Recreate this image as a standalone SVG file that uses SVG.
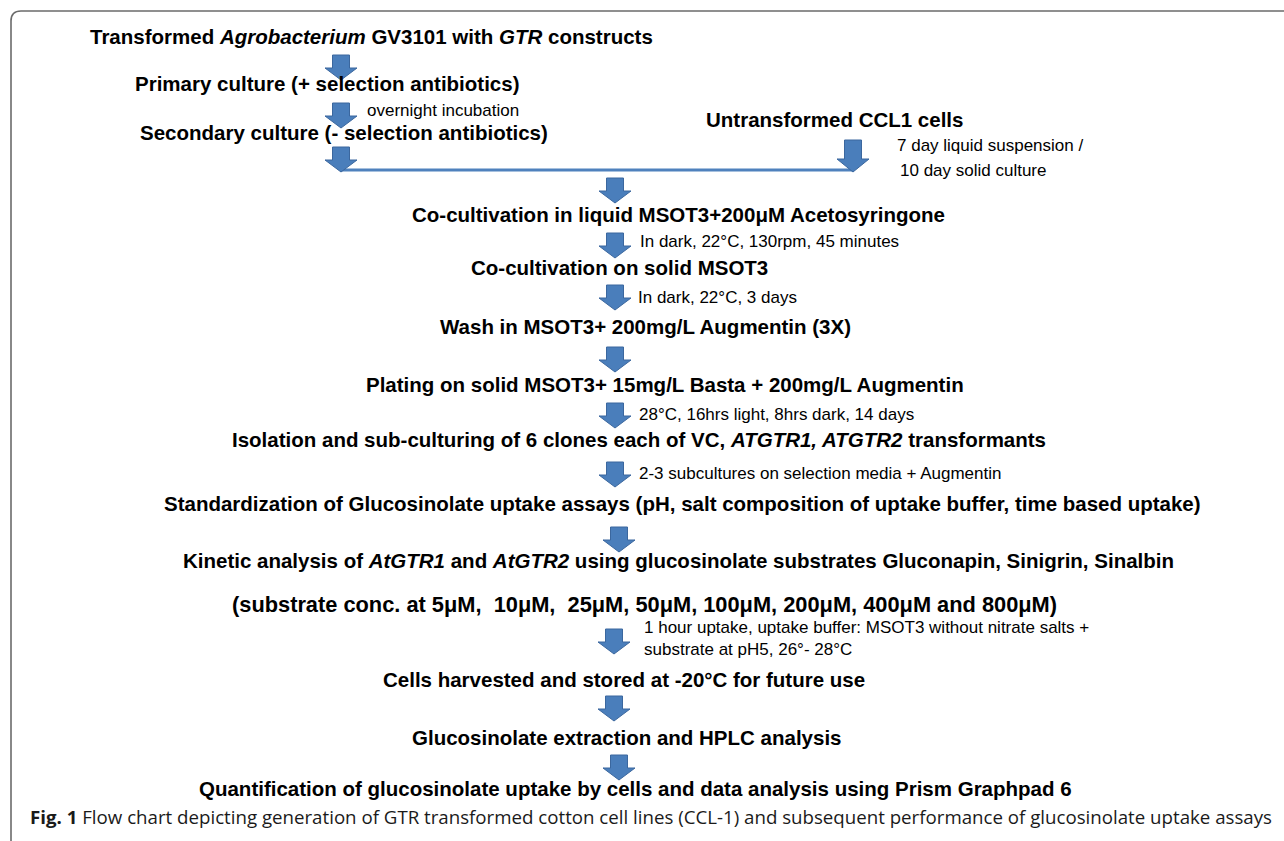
<svg xmlns="http://www.w3.org/2000/svg" width="1284" height="841" viewBox="0 0 1284 841">
  <defs>
    <style>
      .step { font-family: "Liberation Sans", Arial, sans-serif; font-weight: bold; font-size: 20.5px; fill: #000; }
      .big { font-size: 21.8px; }
      .note { font-family: "Liberation Sans", Arial, sans-serif; font-size: 17px; fill: #000; }
      .cap { font-family: "Open Sans", "Noto Sans", sans-serif; font-size: 18.5px; fill: #1a1a1a; }
      .arrow { fill: #4a7ebb; stroke: #3b679e; stroke-width: 1; }
      .link { stroke: #4f81bd; stroke-width: 3; fill: none; }
      .frame { fill: none; stroke: #6b6b6b; stroke-width: 1.6; }
    </style>
    <!-- block arrow pointing down, origin at tip -->
    <path id="down" d="M -8.5 -25 L 8.5 -25 L 8.5 -12 L 16 -12 L 0 0 L -16 -12 L -8.5 -12 Z"/>
    <path id="downLong" d="M -8.5 -32 L 8.5 -32 L 8.5 -13 L 16 -13 L 0 0 L -16 -13 L -8.5 -13 Z"/>
  </defs>
  <rect width="1284" height="841" fill="#fff"/>

  <!-- figure frame: top and left edges only -->
  <path class="frame" d="M 11 841 L 11 21 Q 11 11 21 11 L 1284 11"/>

  <!-- connectors -->
  <g id="connectors">
    <line class="link" x1="340" y1="170" x2="853" y2="170"/>
    <use href="#down" class="arrow" x="341" y="80"/>
    <use href="#down" class="arrow" x="341" y="128"/>
    <use href="#down" class="arrow" x="341" y="172"/>
    <use href="#downLong" class="arrow" x="853" y="172"/>
    <use href="#down" class="arrow" x="615" y="203"/>
    <use href="#down" class="arrow" x="615" y="258"/>
    <use href="#down" class="arrow" x="615" y="310"/>
    <use href="#down" class="arrow" x="615" y="372"/>
    <use href="#down" class="arrow" x="615" y="428"/>
    <use href="#down" class="arrow" x="615" y="487"/>
    <use href="#down" class="arrow" x="619" y="552"/>
    <use href="#down" class="arrow" x="614" y="654"/>
    <use href="#down" class="arrow" x="614" y="721"/>
    <use href="#down" class="arrow" x="619" y="780"/>
  </g>

  <g id="n-agro"><text class="step" x="90" y="44">Transformed <tspan font-style="italic">Agrobacterium</tspan> GV3101 with <tspan font-style="italic">GTR</tspan> constructs</text></g>
  <g id="n-primary"><text class="step" x="135" y="91">Primary culture (+ selection antibiotics)</text></g>
  <g id="l-overnight"><text class="note" x="367" y="116">overnight incubation</text></g>
  <g id="n-secondary"><text class="step" x="140" y="140">Secondary culture (- selection antibiotics)</text></g>
  <g id="n-ccl1"><text class="step" x="706" y="127">Untransformed CCL1 cells</text></g>
  <g id="l-ccl1">
    <text class="note" x="897" y="151">7 day liquid suspension /</text>
    <text class="note" x="900" y="176">10 day solid culture</text>
  </g>
  <g id="n-cocult-liquid"><text class="step" x="412" y="222">Co-cultivation in liquid MSOT3+200μM Acetosyringone</text></g>
  <g id="l-dark1"><text class="note" x="640" y="247">In dark, 22°C, 130rpm, 45 minutes</text></g>
  <g id="n-cocult-solid"><text class="step" x="471" y="275">Co-cultivation on solid MSOT3</text></g>
  <g id="l-dark2"><text class="note" x="638" y="303">In dark, 22°C, 3 days</text></g>
  <g id="n-wash"><text class="step" x="440" y="334">Wash in MSOT3+ 200mg/L Augmentin (3X)</text></g>
  <g id="n-plating"><text class="step" x="366" y="392">Plating on solid MSOT3+ 15mg/L Basta + 200mg/L Augmentin</text></g>
  <g id="l-light"><text class="note" x="639" y="420">28°C, 16hrs light, 8hrs dark, 14 days</text></g>
  <g id="n-isolation"><text class="step" x="232" y="447">Isolation and sub-culturing of 6 clones each of VC, <tspan font-style="italic">ATGTR1, ATGTR2</tspan> transformants</text></g>
  <g id="l-subcult"><text class="note" x="639" y="479">2-3 subcultures on selection media + Augmentin</text></g>
  <g id="n-standard"><text class="step" x="164" y="511">Standardization of Glucosinolate uptake assays (pH, salt composition of uptake buffer, time based uptake)</text></g>
  <g id="n-kinetic">
    <text class="step" x="183" y="568">Kinetic analysis of <tspan font-style="italic">AtGTR1</tspan> and <tspan font-style="italic">AtGTR2</tspan> using glucosinolate substrates Gluconapin, Sinigrin, Sinalbin</text>
    <text class="step big" x="232" y="612" xml:space="preserve">(substrate conc. at 5μM,  10μM,  25μM, 50μM, 100μM, 200μM, 400μM and 800μM)</text>
  </g>
  <g id="l-uptake">
    <text class="note" x="644" y="633">1 hour uptake, uptake buffer: MSOT3 without nitrate salts +</text>
    <text class="note" x="644" y="655">substrate at pH5, 26°- 28°C</text>
  </g>
  <g id="n-harvest"><text class="step" x="383" y="687">Cells harvested and stored at -20°C for future use</text></g>
  <g id="n-hplc"><text class="step" x="412" y="745">Glucosinolate extraction and HPLC analysis</text></g>
  <g id="n-quant"><text class="step" x="199" y="796">Quantification of glucosinolate uptake by cells and data analysis using Prism Graphpad 6</text></g>

  <g id="caption"><text class="cap" x="30" y="824" textLength="1242" lengthAdjust="spacingAndGlyphs"><tspan font-weight="bold">Fig. 1</tspan>  Flow chart depicting generation of GTR transformed cotton cell lines (CCL-1) and subsequent performance of glucosinolate uptake assays</text></g>
</svg>
